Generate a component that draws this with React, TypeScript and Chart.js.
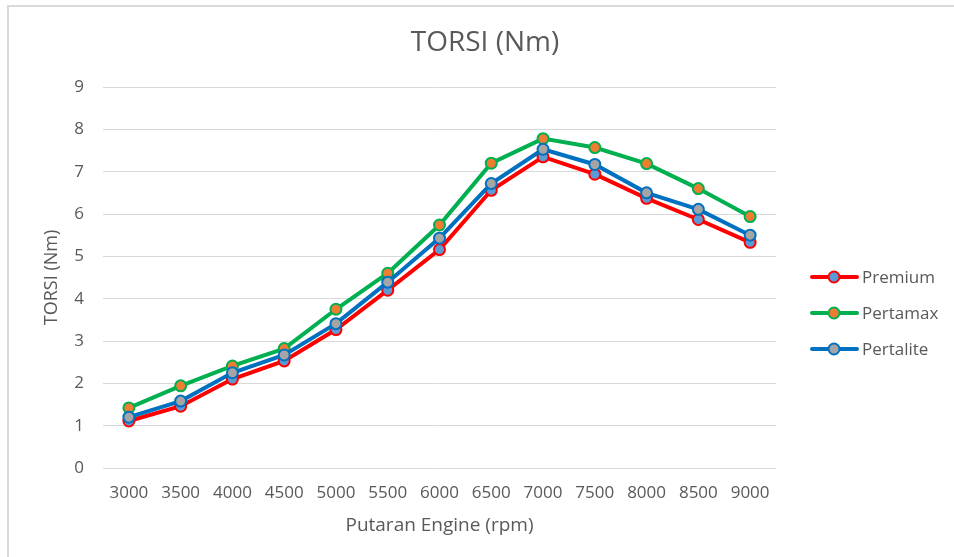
import React, { useEffect, useRef } from "react";
import { Chart, registerables } from "chart.js";

Chart.register(...registerables);

const categories = ["3000", "3500", "4000", "4500", "5000", "5500", "6000", "6500", "7000", "7500", "8000", "8500", "9000"];
const premium = [1.11, 1.46, 2.1, 2.53, 3.27, 4.2, 5.16, 6.56, 7.35, 6.94, 6.37, 5.87, 5.33];
const pertamax = [1.42, 1.94, 2.41, 2.82, 3.75, 4.6, 5.74, 7.2, 7.78, 7.57, 7.19, 6.6, 5.94];
const pertalite = [1.2, 1.58, 2.25, 2.67, 3.41, 4.39, 5.43, 6.72, 7.53, 7.17, 6.5, 6.11, 5.5];
const yTicks = [0, 1, 2, 3, 4, 5, 6, 7, 8, 9];

const seriesNames = ["Premium", "Pertamax", "Pertalite"];
const chartTitle = "TORSI (Nm)";
const xTitle = "Putaran Engine (rpm)";
const yTitle = "TORSI (Nm)";

const FONT = "'Open Sans', sans-serif";
const TEXT = "#595959";

const overlayPlugin = {
  id: "overlay",
  afterDraw(chart: any) {
    const ctx = chart.ctx;
    ctx.save();
    // title
    ctx.fillStyle = TEXT;
    ctx.font = `28px ${FONT}`;
    ctx.textAlign = "center";
    ctx.textBaseline = "middle";
    ctx.fillText(chartTitle, 485, 43);
    // legend
    const ys = [277, 313, 349];
    const dsets = chart.data.datasets;
    [0, 1, 2].forEach((i) => {
      const ds = dsets.find((d: any) => d.label === seriesNames[i]);
      const y = ys[i];
      ctx.strokeStyle = ds.borderColor;
      ctx.lineWidth = 4;
      ctx.lineCap = "round";
      ctx.beginPath();
      ctx.moveTo(812, y);
      ctx.lineTo(857, y);
      ctx.stroke();
      ctx.beginPath();
      ctx.arc(834, y, 5.5, 0, Math.PI * 2);
      ctx.fillStyle = ds.pointBackgroundColor;
      ctx.fill();
      ctx.lineWidth = 2;
      ctx.strokeStyle = ds.pointBorderColor;
      ctx.stroke();
      ctx.fillStyle = TEXT;
      ctx.font = `17px ${FONT}`;
      ctx.textAlign = "left";
      ctx.textBaseline = "middle";
      ctx.fillText(ds.label, 862, y + 1);
    });
    ctx.restore();
  },
};

export default function App() {
  const ref = useRef<HTMLCanvasElement | null>(null);

  useEffect(() => {
    if (!ref.current) return;
    const mk = (label: string, data: number[], line: string, fill: string, order: number) => ({
      label,
      data,
      borderColor: line,
      backgroundColor: fill,
      borderWidth: 4,
      pointRadius: 5.5,
      pointBorderWidth: 2,
      pointBackgroundColor: fill,
      pointBorderColor: line,
      tension: 0,
      order,
    });
    const chart = new Chart(ref.current, {
      type: "line",
      data: {
        labels: categories,
        datasets: [
          mk(seriesNames[0], premium, "#FF0000", "#5B9BD5", 2),
          mk(seriesNames[1], pertamax, "#00B050", "#ED7D31", 1),
          mk(seriesNames[2], pertalite, "#0070C0", "#A5A5A5", 0),
        ],
      },
      plugins: [overlayPlugin],
      options: {
        responsive: false,
        animation: false,
        devicePixelRatio: 1,
        layout: { padding: { left: 0, right: 178, top: 87, bottom: 0 } },
        plugins: {
          legend: { display: false },
          title: { display: false },
          tooltip: { enabled: false },
        },
        scales: {
          x: {
            type: "category",
            offset: true,
            grid: { display: false, drawTicks: false },
            border: { display: false },
            ticks: { color: TEXT, font: { family: FONT, size: 17 }, padding: 15, maxRotation: 0, autoSkip: false },
            title: { display: true, text: xTitle, color: TEXT, font: { family: FONT, size: 19 }, padding: { top: 0, bottom: 20 } },
            afterFit: (s: any) => { s.height = 89; },
          },
          y: {
            min: 0,
            max: 9,
            afterBuildTicks: (s: any) => { s.ticks = yTicks.map((v) => ({ value: v })); },
            grid: { color: "#D9D9D9", lineWidth: 1, drawTicks: false },
            border: { display: false },
            ticks: { color: TEXT, font: { family: FONT, size: 17 }, padding: 19 },
            title: { display: true, text: yTitle, color: TEXT, font: { family: FONT, size: 18 }, padding: { top: 41, bottom: 0 } },
            afterFit: (s: any) => { s.width = 103; },
          },
        },
      },
    });
    return () => chart.destroy();
  }, []);

  return (
    <div style={{ position: "fixed", left: 0, top: 0, width: 954, height: 557, background: "#fff", overflow: "hidden" }}>
      <div style={{ position: "absolute", left: 7, top: 5, width: 1000, height: 600, borderLeft: "2px solid #D9D9D9", borderTop: "2px solid #D9D9D9" }} />
      <canvas ref={ref} width={954} height={557} style={{ position: "absolute", left: 0, top: 0, width: 954, height: 557 }} />
    </div>
  );
}
